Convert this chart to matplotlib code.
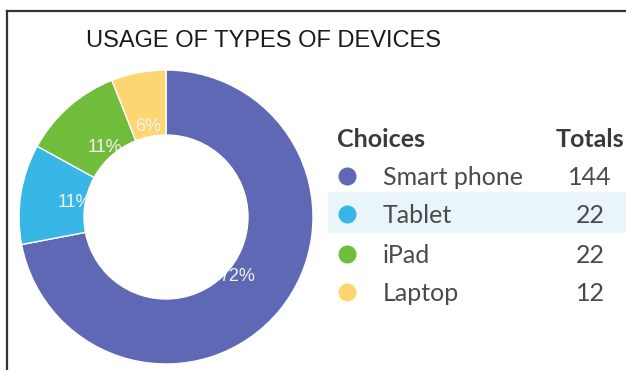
import matplotlib
matplotlib.use("Agg")
import matplotlib.pyplot as plt
from matplotlib.patches import Circle, Rectangle
from matplotlib.lines import Line2D

W, H = 626, 370

title = "USAGE OF TYPES OF DEVICES"
choices = ["Smart phone", "Tablet", "iPad", "Laptop"]
totals = [144, 22, 22, 12]
colors = ["#5f68b5", "#38b6e6", "#70bc3b", "#fdd671"]


def px(x, y):
    """Pixel coords (origin top-left) -> figure fraction."""
    return x / W, 1 - y / H


fig = plt.figure(figsize=(W / 100, H / 100), dpi=100)
fig.patch.set_facecolor("white")

# frame lines (top and left only)
fig.add_artist(Line2D([7 / W, 1], [1 - 11 / H] * 2, color="#333333", lw=1.6))
fig.add_artist(Line2D([7 / W] * 2, [0, 1 - 11 / H], color="#333333", lw=1.6))

fig.text(*px(86, 41), title, family="Liberation Sans", fontsize=17,
         color="#1a1a1a", ha="left", va="center")

# donut: outer radius 147px centred at (166, 217)
cx, cy, R = 166, 217, 147
ax = fig.add_axes([(cx - R) / W, 1 - (cy + R) / H, 2 * R / W, 2 * R / H])

wedges, _, pcts = ax.pie(
    totals, colors=colors, startangle=90, counterclock=False,
    radius=1, autopct="%d%%", pctdistance=0.63,
    wedgeprops=dict(edgecolor="white", linewidth=1),
    textprops=dict(color="#f4f4f4", fontsize=13, family="Liberation Sans"),
)
# hole drawn over the labels, so the inner ends get clipped
ax.add_patch(Circle((0, 0), 82 / R, color="white", zorder=10))
ax.set_xlim(-1, 1)
ax.set_ylim(-1, 1)
ax.set_aspect("equal")
ax.axis("off")

# legend table
fig.add_artist(Rectangle(px(328, 232), (626 - 328) / W, 40 / H,
                         color="#eaf5fb", zorder=0))
fig.text(*px(337, 147), "Choices", family="Lato", weight="bold",
         fontsize=18, color="#3a3a3a", va="baseline")
fig.text(*px(556, 147), "Totals", family="Lato", weight="bold",
         fontsize=18, color="#3a3a3a", va="baseline")

row_y = [176, 214, 254, 292]
for name, total, col, y in zip(choices, totals, colors, row_y):
    fig.add_artist(Line2D([347 / W], [1 - y / H], marker="o", markersize=13,
                          color=col, markeredgewidth=0))
    fig.text(*px(383, y + 9), name, family="Lato", fontsize=18,
             color="#4a4a4a", va="baseline")
    fig.text(*px(590, y + 9), str(total), family="Lato", fontsize=18,
             color="#4a4a4a", va="baseline", ha="center")

fig.savefig("out.png", dpi=100)
